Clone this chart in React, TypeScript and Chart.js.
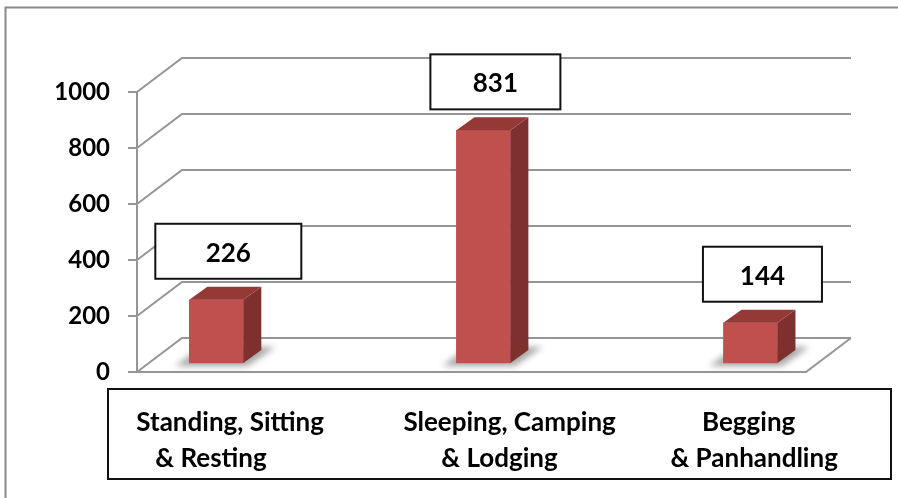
import React, { useEffect, useRef } from 'react';
import { Chart, registerables } from 'chart.js';

Chart.register(...registerables);

// ---- data ----
const categories: string[][] = [
  ['Standing, Sitting', '   & Resting'],
  ['Sleeping, Camping', '      & Lodging'],
  ['     Begging', '& Panhandling'],
];
const citations: number[] = [226, 831, 144];
const yMin = 0;
const yMax = 1000;
const yStep = 200;

// ---- style ----
const FONT = 'Lato, "Open Sans", sans-serif';
const GRID = '#959595';
const WALL = { dx: 45, dy: -34 };
const BAR_DEPTH = { dx: 18, dy: -13 };
const BAR_FRONT = '#C0504D';
const BAR_SIDE = '#7E302E';
const BAR_TOP = '#953936';
const LABEL_BOX_W = [146, 130, 119];
const LABEL_BOX_H = 55;

const framePlugin = {
  id: 'frame',
  beforeDraw(chart: any) {
    const { ctx } = chart;
    ctx.save();
    ctx.strokeStyle = '#8a8a8a';
    ctx.lineWidth = 2;
    ctx.beginPath();
    ctx.moveTo(5.5, 498);
    ctx.lineTo(5.5, 7.5);
    ctx.lineTo(898, 7.5);
    ctx.stroke();
    ctx.restore();
  },
  afterDraw(chart: any) {
    const { ctx, chartArea } = chart;
    const x = chart.scales.x;
    ctx.save();
    ctx.strokeStyle = '#111';
    ctx.lineWidth = 2;
    ctx.strokeRect(chartArea.left - 29, x.top + 17, chartArea.right - chartArea.left + 114, 90);
    ctx.restore();
  },
};

const wallPlugin = {
  id: 'wall3d',
  beforeDatasetsDraw(chart: any) {
    const { ctx, chartArea: ca } = chart;
    const y = chart.scales.y;
    ctx.save();
    ctx.strokeStyle = GRID;
    ctx.lineWidth = 2;
    ctx.lineJoin = 'miter';
    // back wall gridlines with the diagonal from the front axis
    y.ticks.forEach((t: any) => {
      const py = y.getPixelForValue(t.value);
      ctx.beginPath();
      ctx.moveTo(ca.left, py);
      ctx.lineTo(ca.left + WALL.dx, py + WALL.dy);
      ctx.lineTo(ca.right + WALL.dx, py + WALL.dy);
      ctx.stroke();
    });
    // floor
    const y0 = y.getPixelForValue(0);
    ctx.beginPath();
    ctx.moveTo(ca.left, y0);
    ctx.lineTo(ca.right, y0);
    ctx.lineTo(ca.right + WALL.dx, y0 + WALL.dy);
    ctx.stroke();
    // bar shadows on the floor
    const meta = chart.getDatasetMeta(0);
    ctx.fillStyle = 'rgba(0,0,0,0.35)';
    ctx.filter = 'blur(3px)';
    meta.data.forEach((el: any) => {
      const { x, base, width } = el.getProps(['x', 'base', 'width'], true);
      const l = x - width / 2;
      const r = x + width / 2;
      ctx.beginPath();
      ctx.moveTo(l - 14, base + 3);
      ctx.lineTo(r + 4, base + 3);
      ctx.lineTo(r + 32, base - 16);
      ctx.lineTo(l + 12, base - 16);
      ctx.closePath();
      ctx.fill();
    });
    ctx.restore();
  },
  afterDatasetsDraw(chart: any) {
    const { ctx } = chart;
    const meta = chart.getDatasetMeta(0);
    const data = chart.data.datasets[0].data as any[];
    ctx.save();
    meta.data.forEach((el: any, i: number) => {
      const { x, y, base, width } = el.getProps(['x', 'y', 'base', 'width'], true);
      const l = x - width / 2;
      const r = x + width / 2;
      // side
      ctx.fillStyle = BAR_SIDE;
      ctx.beginPath();
      ctx.moveTo(r, y);
      ctx.lineTo(r + BAR_DEPTH.dx, y + BAR_DEPTH.dy);
      ctx.lineTo(r + BAR_DEPTH.dx, base + BAR_DEPTH.dy);
      ctx.lineTo(r, base);
      ctx.closePath();
      ctx.fill();
      // top
      ctx.fillStyle = BAR_TOP;
      ctx.beginPath();
      ctx.moveTo(l, y);
      ctx.lineTo(l + BAR_DEPTH.dx, y + BAR_DEPTH.dy);
      ctx.lineTo(r + BAR_DEPTH.dx, y + BAR_DEPTH.dy);
      ctx.lineTo(r, y);
      ctx.closePath();
      ctx.fill();
      // data label box
      const bw = LABEL_BOX_W[i];
      const cx = x + 12;
      const bottom = y - 21;
      ctx.fillStyle = '#fff';
      ctx.fillRect(cx - bw / 2, bottom - LABEL_BOX_H, bw, LABEL_BOX_H);
      ctx.strokeStyle = '#111';
      ctx.lineWidth = 2;
      ctx.strokeRect(cx - bw / 2, bottom - LABEL_BOX_H, bw, LABEL_BOX_H);
      ctx.fillStyle = '#000';
      ctx.font = `bold 26px ${FONT}`;
      ctx.textAlign = 'center';
      ctx.textBaseline = 'middle';
      ctx.fillText(String(data[i].y), cx, bottom - LABEL_BOX_H / 2 + 2);
    });
    ctx.restore();
  },
};

export default function App() {
  const ref = useRef<HTMLCanvasElement>(null);

  useEffect(() => {
    const canvas = ref.current;
    if (!canvas) return;
    const chart = new Chart(canvas, {
      type: 'bar',
      data: {
        datasets: [
          {
            data: citations.map((v, i) => ({ x: i, y: v })),
            backgroundColor: BAR_FRONT,
            borderWidth: 0,
            barThickness: 54,
            yAxisID: 'yBar',
            xAxisID: 'x',
          },
        ],
      },
      options: {
        responsive: false,
        animation: false,
        layout: { padding: { left: 0, top: 92, right: 92, bottom: 0 } },
        plugins: {
          legend: { display: false },
          tooltip: { enabled: false },
          title: { display: false },
        },
        scales: {
          x: {
            type: 'linear',
            position: 'bottom',
            offset: false,
            min: -0.297,
            max: 2.208,
            afterBuildTicks: (axis: any) => {
              axis.ticks = categories.map((_, i) => ({ value: i }));
            },
            afterFit: (axis: any) => {
              axis.height = 126;
              axis.paddingLeft = 0;
              axis.paddingRight = 0;
            },
            grid: { display: false, drawTicks: false },
            border: { display: false },
            ticks: {
              autoSkip: false,
              maxRotation: 0,
              minRotation: 0,
              align: 'start',
              labelOffset: -80,
              padding: 33,
              color: '#000',
              font: { family: FONT, size: 26, weight: 'bold', lineHeight: 1.38 },
              callback: (value: any) => categories[Number(value)] ?? '',
            },
          },
          y: {
            type: 'linear',
            position: 'left',
            min: yMin,
            max: yMax,
            afterFit: (axis: any) => {
              axis.width = 137;
              axis.paddingTop = 0;
              axis.paddingBottom = 0;
            },
            ticks: {
              stepSize: yStep,
              padding: 18,
              color: '#000',
              font: { family: FONT, size: 24, weight: 'bold' },
              callback: (value: any) => String(value),
            },
            grid: {
              drawOnChartArea: false,
              drawTicks: true,
              tickLength: 9,
              color: GRID,
              lineWidth: 2,
            },
            border: { display: true, color: GRID, width: 2 },
          },
          yBar: {
            type: 'linear',
            display: false,
            min: -32,
            max: 968,
          },
        },
      },
      plugins: [framePlugin, wallPlugin],
    } as any);
    return () => chart.destroy();
  }, []);

  return (
    <div style={{ position: 'absolute', left: 0, top: 0, width: 898, height: 498, background: '#fff' }}>
      <canvas ref={ref} width={898} height={498} style={{ display: 'block' }} />
    </div>
  );
}
